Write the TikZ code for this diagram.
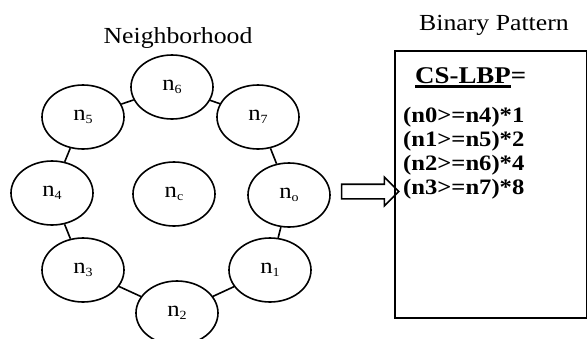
\documentclass[tikz,border=0pt]{standalone}
\usepackage{fontspec}
\setmainfont{Liberation Serif}[FakeStretch=1.12]
\usetikzlibrary{positioning, shapes, arrows.meta}

\newsavebox\ulbox
\newcommand\thickul[1]{\sbox\ulbox{#1}\rlap{\usebox\ulbox}\rule[-5pt]{\wd\ulbox}{3pt}}
\newcommand\nsub[1]{n\raisebox{-3pt}{\fontsize{12.5}{12.5}\selectfont #1}}

\begin{document}
\begin{tikzpicture}[x=1pt, y=-1pt,
      nb/.style={ellipse, draw, line width=1.6pt, fill=white, minimum width=82pt, minimum height=64pt, inner sep=0pt, font=\fontsize{22}{22}\selectfont},
      ttl/.style={anchor=base, inner sep=0pt, font=\fontsize{23}{23}\selectfont},
      cond/.style={anchor=base west, inner sep=0pt, font=\bfseries\fontsize{22}{22}\selectfont},
      blk/.style={single arrow, draw, line width=1.6pt, inner xsep=0pt, inner ysep=6.5pt, minimum height=57pt, single arrow head extend=7pt}]

      \useasboundingbox (0,0) rectangle (587,338);

      \node[ttl] (neigh) at (178,43) {Neighborhood};

      \node[nb] (n6) at (172,87) {\nsub{6}}; %
      \node[nb] (n5) at (83,117) {\nsub{5}};
      \node[nb] (n7) at (258,117) {\nsub{7}};
      \node[nb] (n4) at (52,193) {\nsub{4}}; %
      \node[nb] (nc) at (174,194) {\nsub{c}};
      \node[nb] (n0) at (289,195) {\nsub{o}};
      \node[nb] (n3) at (83,270) {\nsub{3}}; %
      \node[nb] (n1) at (270,270) {\nsub{1}};
      \node[nb] (n2) at (177,313) {\nsub{2}};

      \draw[line width=1.6pt] (n6) -- (n7);
      \draw[line width=1.6pt] (n7) -- (n0);
      \draw[line width=1.6pt] (n0) -- (n1);
      \draw[line width=1.6pt] (n1) -- (n2);
      \draw[line width=1.6pt] (n2) -- (n3);
      \draw[line width=1.6pt] (n3) -- (n4);
      \draw[line width=1.6pt] (n4) -- (n5);
      \draw[line width=1.6pt] (n5) -- (n6);

      \node[blk] (arr) at (366.5,191.5) {};

      \node[ttl] (bin) at (494,30) {Binary Pattern};
      \node[draw, line width=1.6pt, anchor=north west, inner sep=0pt, minimum width=192pt, minimum height=267pt] (pattern) at (394,50) {};

      \node[cond, font=\bfseries\fontsize{24}{24}\selectfont] (cs) at (415,83) {\thickul{CS-LBP}=};
      \node[cond] (l0) at (403,122) {(n0>=n4)*1};
      \node[cond] (l1) at ([yshift=-24pt]l0.base west) {(n1>=n5)*2};
      \node[cond] (l2) at ([yshift=-24pt]l1.base west) {(n2>=n6)*4};
      \node[cond] (l3) at ([yshift=-24pt]l2.base west) {(n3>=n7)*8};
\end{tikzpicture}
\end{document}
